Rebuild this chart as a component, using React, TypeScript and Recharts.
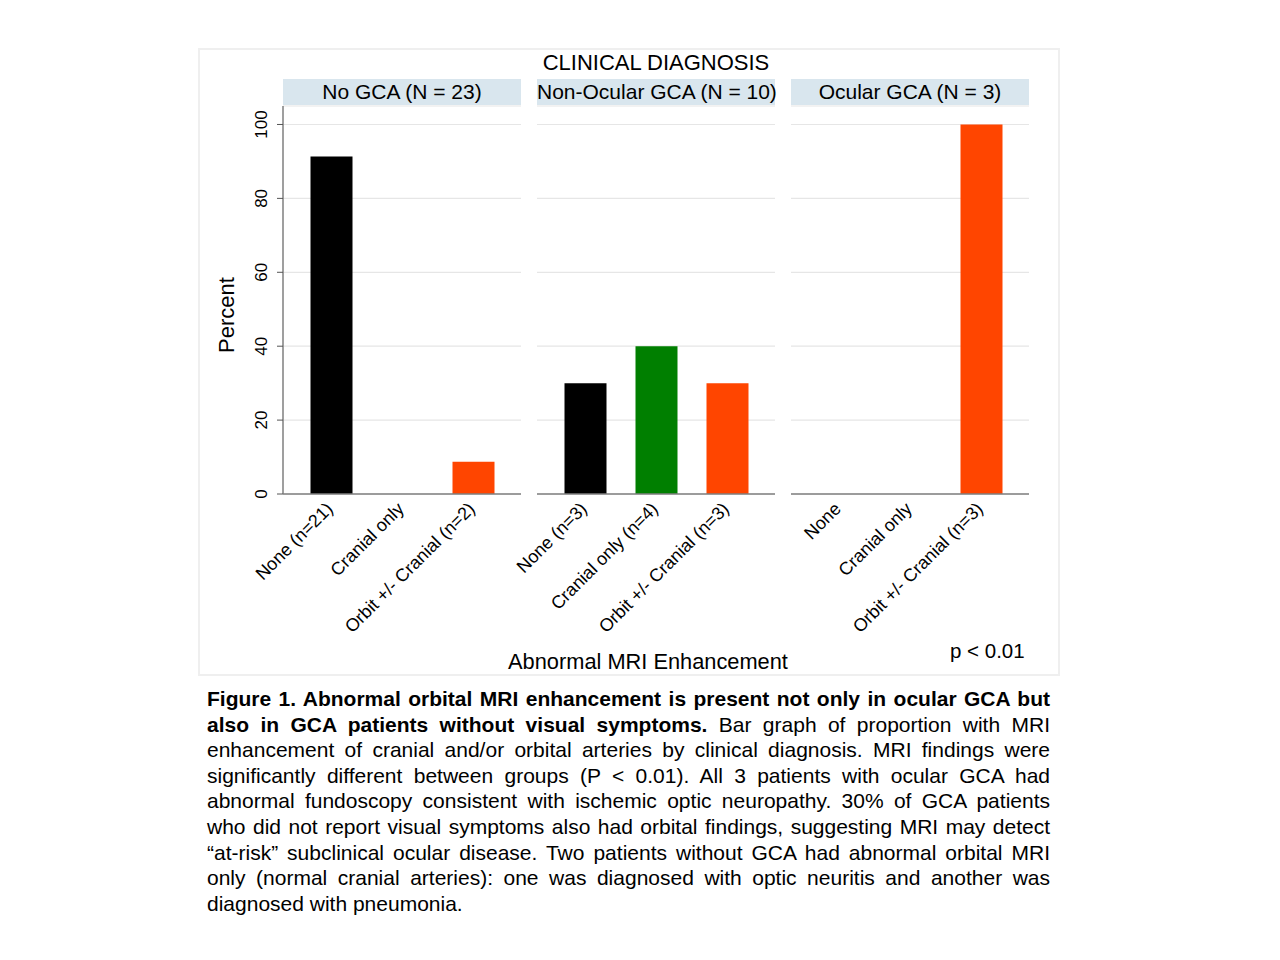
import React from "react";
import { BarChart, Bar, XAxis, YAxis, CartesianGrid, Cell } from "recharts";

const panelTitles = ["No GCA (N = 23)", "Non-Ocular GCA (N = 10)", "Ocular GCA (N = 3)"];
const categoriesNoGCA = ["None (n=21)", "Cranial only", "Orbit +/- Cranial (n=2)"];
const valuesNoGCA = [91.3, 0, 8.7];
const categoriesNonOcular = ["None (n=3)", "Cranial only (n=4)", "Orbit +/- Cranial (n=3)"];
const valuesNonOcular = [30, 40, 30];
const categoriesOcular = ["None", "Cranial only", "Orbit +/- Cranial (n=3)"];
const valuesOcular = [0, 0, 100];
const barColors = ["#000000", "#007f00", "#ff4500"];
const yTicks = [0, 20, 40, 60, 80, 100];

const captionBold = "Figure 1. Abnormal orbital MRI enhancement is present not only in ocular GCA but";
const captionLines = [
  "also in GCA patients without visual symptoms.|| Bar graph of proportion with MRI",
  "enhancement of cranial and/or orbital arteries by clinical diagnosis. MRI findings were",
  "significantly different between groups (P < 0.01). All 3 patients with ocular GCA had",
  "abnormal fundoscopy consistent with ischemic optic neuropathy. 30% of GCA patients",
  "who did not report visual symptoms also had orbital findings, suggesting MRI may detect",
  "\u201cat-risk\u201d subclinical ocular disease. Two patients without GCA had abnormal orbital MRI",
  "only (normal cranial arteries): one was diagnosed with optic neuritis and another was",
  "diagnosed with pneumonia.",
];

const FONT = '"Liberation Sans", Arial, sans-serif';

const XTick = (props: any) => {
  const { x, y, payload } = props;
  return (
    <text
      transform={`translate(${x + 3},${y + 16}) rotate(-45)`}
      textAnchor="end"
      fontSize={18}
      fontFamily={FONT}
      fill="#000"
    >
      {payload.value}
    </text>
  );
};

const YTick = (props: any) => {
  const { x, y, payload } = props;
  return (
    <text
      transform={`translate(${x - 8},${y}) rotate(-90)`}
      textAnchor="middle"
      fontSize={17}
      fontFamily={FONT}
      fill="#000"
    >
      {payload.value}
    </text>
  );
};

const AXIS_W = 83;

function Panel({ categories, values, showY, plotLeft }: any) {
  const data = categories.map((c: string, i: number) => ({ name: c, value: values[i] }));
  return (
    <div style={{ position: "absolute", left: plotLeft - AXIS_W, top: 100 }}>
      <BarChart
        width={238 + AXIS_W}
        height={540}
        data={data}
        margin={{ top: 6, right: 0, bottom: 0, left: showY ? 0 : AXIS_W }}
        barSize={42}
      >
        <CartesianGrid horizontal vertical={false} stroke="#e6e6e6" strokeWidth={1.2} />
        <XAxis
          dataKey="name"
          type="category"
          interval={0}
          tickLine={false}
          tickSize={0}
          tickMargin={0}
          axisLine={{ stroke: "#7f7f7f", strokeWidth: 1.5 }}
          padding={{ left: 12.5, right: 12.5 }}
          height={146}
          tick={<XTick />}
        />
        <YAxis
          hide={!showY}
          width={AXIS_W}
          domain={[0, 105]}
          ticks={yTicks}
          type="number"
          allowDataOverflow
          tickSize={6}
          tickMargin={2}
          tickLine={{ stroke: "#555" }}
          axisLine={{ stroke: "#7f7f7f", strokeWidth: 1.5 }}
          tick={<YTick />}
        />
        <Bar dataKey="value" isAnimationActive={false}>
          {data.map((_: any, i: number) => (
            <Cell key={i} fill={barColors[i]} />
          ))}
        </Bar>
      </BarChart>
    </div>
  );
}

const headerLefts = [283, 537, 791];

export default function App() {
  return (
    <div
      style={{
        position: "absolute",
        left: 0,
        top: 0,
        width: 1280,
        height: 960,
        background: "#fff",
        fontFamily: FONT,
        color: "#000",
      }}
    >
      <div
        style={{
          position: "absolute",
          left: 198,
          top: 48,
          width: 862,
          height: 628,
          border: "2px solid #efefef",
          boxSizing: "border-box",
        }}
      />
      {panelTitles.map((t, i) => (
        <div
          key={t}
          style={{
            position: "absolute",
            left: headerLefts[i],
            top: 79,
            width: 238,
            height: 26,
            background: "#d9e6ee",
            fontSize: 21,
            lineHeight: "26px",
            textAlign: "center",
            whiteSpace: "nowrap",
          }}
        >
          {t}
        </div>
      ))}
      <Panel categories={categoriesNoGCA} values={valuesNoGCA} showY plotLeft={283} />
      <Panel categories={categoriesNonOcular} values={valuesNonOcular} showY={false} plotLeft={537} />
      <Panel categories={categoriesOcular} values={valuesOcular} showY={false} plotLeft={791} />
      <svg
        width={1280}
        height={700}
        style={{ position: "absolute", left: 0, top: 0, pointerEvents: "none" }}
      >
        <text x={656} y={70} textAnchor="middle" fontSize={22} fontFamily={FONT} fill="#000">
          CLINICAL DIAGNOSIS
        </text>
        <text
          transform="translate(234,315) rotate(-90)"
          textAnchor="middle"
          fontSize={22}
          fontFamily={FONT}
          fill="#000"
        >
          Percent
        </text>
        <text x={648} y={669} textAnchor="middle" fontSize={21.8} fontFamily={FONT} fill="#000">
          Abnormal MRI Enhancement
        </text>
        <text x={950} y={658} textAnchor="start" fontSize={20.5} fontFamily={FONT} fill="#000">
          p &lt; 0.01
        </text>
      </svg>
      <div
        style={{
          position: "absolute",
          left: 207,
          top: 686,
          width: 843,
          fontSize: 21,
          lineHeight: "25.6px",
        }}
      >
        <div style={{ textAlign: "justify", textAlignLast: "justify", fontWeight: "bold" }}>
          {captionBold}
        </div>
        {captionLines.map((line, i) => {
          const last = i === captionLines.length - 1;
          const parts = line.split("||");
          return (
            <div
              key={i}
              style={{
                textAlign: "justify",
                textAlignLast: last ? "left" : "justify",
              }}
            >
              {parts.length > 1 ? (
                <>
                  <b>{parts[0]}</b>
                  {parts[1]}
                </>
              ) : (
                line
              )}
            </div>
          );
        })}
      </div>
    </div>
  );
}
